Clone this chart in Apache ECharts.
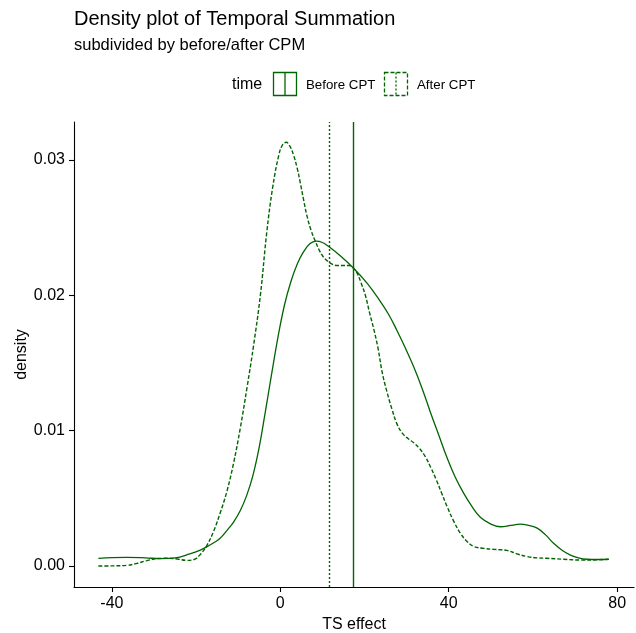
<!DOCTYPE html>
<html>
<head>
<meta charset="utf-8">
<script src="https://cdn.jsdelivr.net/npm/echarts@6/dist/echarts.min.js"></script>
<style>html,body{margin:0;padding:0;background:#fff;}#c{width:636px;height:633px;}</style>
</head>
<body>
<div id="c"></div>
<script>
// ---- data ----
var beforeX = [-43.2,-40,-36.4,-32,-28.5,-25,-21.5,-19,-17.4,-15.8,-14.3,-12.7,-11.1,-9.5,-8,-6.5,-5,-3.5,-2,-0.5,1,2.5,4,5.5,7,8.5,10,11.5,14.3,17.4,20.6,23.2,25.7,27.7,29.7,31.7,33.7,35.6,37.6,39.6,41.5,43.5,45.5,47.5,50,52.3,54.7,57,59,61,63,64.9,67,68.9,70.8,72.8,75.5,78];
var beforeY = [0.00057,0.00062,0.00064,0.00060,0.00055,0.00060,0.00090,0.00118,0.00143,0.00172,0.00205,0.00262,0.00325,0.0041,0.0052,0.0067,0.0088,0.0115,0.0143,0.0170,0.0193,0.0210,0.0223,0.0232,0.0238,0.0240,0.0239,0.0236,0.0229,0.0220,0.0209,0.0198,0.0186,0.0174,0.0161,0.0147,0.0131,0.0114,0.0097,0.0080,0.0066,0.0054,0.0044,0.0036,0.0031,0.0029,0.0030,0.0031,0.0030,0.0028,0.0023,0.00168,0.00115,0.00081,0.00060,0.0005,0.00048,0.0005];
var afterX = [-43.2,-40,-36.4,-34,-31.7,-29,-26.9,-24.5,-22.2,-20.5,-19,-17.4,-15.8,-14.3,-12.7,-11.1,-9.5,-7.9,-6.3,-4.7,-3.2,-1.8,-0.4,0.5,1.4,2.3,3.2,4,4.75,5.5,6.3,7.3,8.3,9.3,10.3,11.3,12.3,13.5,15,16.3,17.4,18.3,19.2,20.2,21.2,22.2,23.2,24.2,25.3,26.5,27.7,29,30.4,31.7,33,34.4,35.7,37,38.3,39.6,41.2,42.8,44.4,45.9,48.3,50.7,52.3,53.8,56.2,58.6,61,63.3,67.3,71.3,74.5,78];
var afterY = [0.0000,0.00001,0.00005,0.0002,0.0004,0.00055,0.00057,0.00052,0.00042,0.00048,0.00085,0.00155,0.0026,0.0039,0.0055,0.0076,0.0102,0.0132,0.0164,0.0201,0.0247,0.0280,0.0303,0.0311,0.0313,0.0310,0.0303,0.0294,0.0283,0.0271,0.0259,0.0248,0.0240,0.0233,0.0228,0.0225,0.0223,0.0222,0.0222,0.0222,0.0220,0.0216,0.0209,0.0200,0.0187,0.0175,0.0161,0.0143,0.0129,0.0116,0.0105,0.0098,0.0094,0.0091,0.0087,0.0081,0.0073,0.0064,0.0054,0.0044,0.0033,0.0024,0.0018,0.00145,0.0013,0.00123,0.0012,0.00116,0.0009,0.0007,0.0006,0.00057,0.0005,0.00044,0.00045,0.0005];
var meanBefore = 17.4;
var meanAfter = 11.7;
var xTicks = [-40, 0, 40, 80];
var yTicks = [0, 0.01, 0.02, 0.03];
var seriesNames = ['Before CPT', 'After CPT'];

function pairs(xs, ys) { return xs.map(function (x, i) { return [x, ys[i]]; }); }

var GREEN = '#006400';
var FONT = '"Liberation Sans", Arial, Helvetica, sans-serif';

var chart = echarts.init(document.getElementById('c'), null, { renderer: 'canvas', width: 636, height: 633 });
chart.setOption({
  backgroundColor: '#fff',
  animation: false,
  textStyle: { fontFamily: FONT },
  grid: { left: 74, right: 2, top: 122, bottom: 46, containLabel: false, outerBoundsMode: 'none' },
  xAxis: {
    type: 'value', min: -49, max: 84,
    name: 'TS effect', nameLocation: 'middle', nameGap: 30, nameMoveOverlap: false,
    nameTextStyle: { fontSize: 16, color: '#000', fontFamily: FONT },
    axisLine: { show: true, onZero: false, lineStyle: { color: '#000', width: 1.1 } },
    axisTick: { show: true, length: 5, customValues: xTicks, lineStyle: { color: '#000', width: 1.1 } },
    axisLabel: { customValues: xTicks, fontSize: 16, color: '#000', margin: 9, fontFamily: FONT },
    splitLine: { show: false }
  },
  yAxis: {
    type: 'value', min: -0.00155, max: 0.0328,
    name: 'density', nameLocation: 'middle', nameGap: 44, nameRotate: 90, nameMoveOverlap: false,
    nameTextStyle: { fontSize: 16, color: '#000', fontFamily: FONT },
    axisLine: { show: true, onZero: false, lineStyle: { color: '#000', width: 1.1 } },
    axisTick: { show: true, length: 5, customValues: yTicks, lineStyle: { color: '#000', width: 1.1 } },
    axisLabel: { customValues: yTicks, fontSize: 16, color: '#000', margin: 9, fontFamily: FONT,
      formatter: function (v) { return v.toFixed(2); } },
    splitLine: { show: false }
  },
  series: [
    {
      name: seriesNames[0], type: 'line', data: pairs(beforeX, beforeY),
      smooth: 0.4, showSymbol: false, symbol: 'none',
      lineStyle: { color: GREEN, width: 1.3, type: 'solid' },
      markLine: {
        silent: true, symbol: 'none', label: { show: false },
        lineStyle: { color: GREEN, width: 1.4, type: 'solid' },
        data: [{ xAxis: meanBefore }]
      }
    },
    {
      name: seriesNames[1], type: 'line', data: pairs(afterX, afterY),
      smooth: 0.4, showSymbol: false, symbol: 'none',
      lineStyle: { color: GREEN, width: 1.4, type: [4, 2] },
      markLine: {
        silent: true, symbol: 'none', label: { show: false },
        lineStyle: { color: GREEN, width: 1.4, type: [2, 2] },
        data: [{ xAxis: meanAfter }]
      }
    }
  ],
  graphic: [
    { type: 'text', left: 74, top: 9.5, style: { text: 'Density plot of Temporal Summation', font: '20px ' + FONT, fill: '#000' } },
    { type: 'text', left: 74, top: 37, style: { text: 'subdivided by before/after CPM', font: '16.5px ' + FONT, fill: '#000' } },
    { type: 'text', x: 232, y: 85, style: { text: 'time', font: '16px ' + FONT, fill: '#000', verticalAlign: 'middle', align: 'left' } },
    { type: 'rect', shape: { x: 273.5, y: 72.5, width: 23, height: 23 }, style: { fill: 'none', stroke: GREEN, lineWidth: 1.3 } },
    { type: 'line', shape: { x1: 285, y1: 72.5, x2: 285, y2: 95.5 }, style: { stroke: GREEN, lineWidth: 1.3 } },
    { type: 'text', x: 306, y: 85, style: { text: seriesNames[0], font: '13.3px ' + FONT, fill: '#000', verticalAlign: 'middle', align: 'left' } },
    { type: 'rect', shape: { x: 384.5, y: 72.5, width: 23, height: 23 }, style: { fill: 'none', stroke: GREEN, lineWidth: 1.3, lineDash: [4, 2] } },
    { type: 'line', shape: { x1: 396, y1: 72.5, x2: 396, y2: 95.5 }, style: { stroke: GREEN, lineWidth: 1.3, lineDash: [2, 2] } },
    { type: 'text', x: 417, y: 85, style: { text: seriesNames[1], font: '13.3px ' + FONT, fill: '#000', verticalAlign: 'middle', align: 'left' } }
  ]
});
</script>
</body>
</html>
